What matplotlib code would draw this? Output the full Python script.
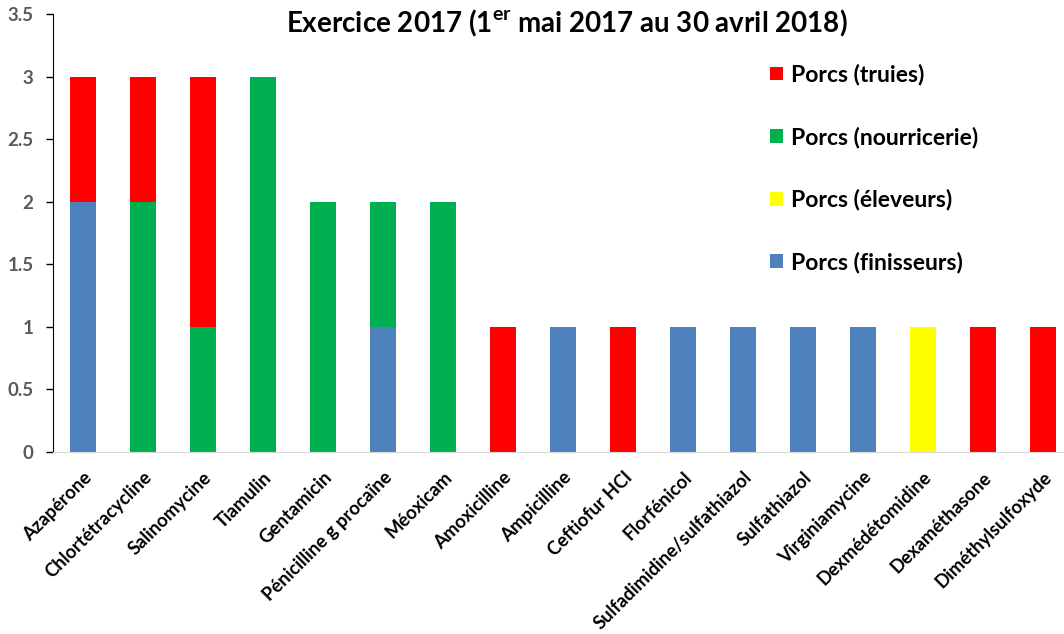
import numpy as np
import matplotlib.pyplot as plt

plt.rcParams['font.family'] = ['Lato', 'DejaVu Sans']
plt.rcParams['mathtext.fontset'] = 'custom'
plt.rcParams['mathtext.bf'] = 'Lato:bold'
plt.rcParams['mathtext.rm'] = 'Lato:bold'

## Data
produits = ['Azapérone', 'Chlortétracycline', 'Salinomycine', 'Tiamulin', 'Gentamicin',
            'Pénicilline g procaïne', 'Méoxicam', 'Amoxicilline', 'Ampicilline', 'Ceftiofur HCl',
            'Florfénicol', 'Sulfadimidine/sulfathiazol', 'Sulfathiazol', 'Virginiamycine',
            'Dexmédétomidine', 'Dexaméthasone', 'Diméthylsulfoxyde']
finisseurs  = [2, 0, 0, 0, 0, 1, 0, 0, 1, 0, 1, 1, 1, 1, 0, 0, 0]
eleveurs    = [0, 0, 0, 0, 0, 0, 0, 0, 0, 0, 0, 0, 0, 0, 1, 0, 0]
nourricerie = [0, 2, 1, 3, 2, 1, 2, 0, 0, 0, 0, 0, 0, 0, 0, 0, 0]
truies      = [1, 1, 2, 0, 0, 0, 0, 1, 0, 1, 0, 0, 0, 0, 0, 1, 1]

series = [('Porcs (finisseurs)', finisseurs, '#4F81BD'),
          ('Porcs (éleveurs)', eleveurs, '#FFFF00'),
          ('Porcs (nourricerie)', nourricerie, '#00B050'),
          ('Porcs (truies)', truies, '#FF0000')]

## Plotting
fig = plt.figure(figsize=(10.64, 6.34), dpi=100)
ax = fig.add_axes([53/1064, 1 - 452/634, 1 - 53/1064, (452 - 14)/634])

x = np.arange(len(produits))
bottom = np.zeros(len(produits))
bars = {}
for label, vals, color in series:
    vals = np.array(vals, dtype=float)
    bars[label] = ax.bar(x, vals, 0.42, bottom=bottom, color=color, label=label)
    bottom += vals

ax.set_xlim(-0.5, 16.35)
ax.set_ylim(0, 3.5)
ax.set_yticks(np.arange(0, 3.51, 0.5))
ax.set_yticklabels(['0', '0.5', '1', '1.5', '2', '2.5', '3', '3.5'],
                   color='#595959', fontsize=13.5, fontweight='bold')
ax.tick_params(axis='y', direction='out', length=5, width=1, color='black', pad=9)
ax.set_xticks(x)
ax.set_xticklabels(produits, rotation=45, ha='right', rotation_mode='anchor',
                   fontsize=13.3, fontweight='bold')
ax.tick_params(axis='x', length=0, pad=12)

for s in ['top', 'right']:
    ax.spines[s].set_visible(False)
ax.spines['left'].set_color('black')
ax.spines['bottom'].set_color('#D9D9D9')

order = ['Porcs (truies)', 'Porcs (nourricerie)', 'Porcs (éleveurs)', 'Porcs (finisseurs)']
ax.legend([bars[k] for k in order], order, loc='upper left',
          bbox_to_anchor=(0.689, 0.933), frameon=False,
          prop={'size': 16.5, 'weight': 'bold'},
          handlelength=0.55, handleheight=0.55, handletextpad=0.35, labelspacing=1.78)

fig.text(567/1064, 1 - 23/634, r'Exercice 2017 (1$^{\mathbf{er}}$ mai 2017 au 30 avril 2018)',
         ha='center', va='center', fontsize=20, fontweight='bold')

plt.savefig('out.png', dpi=100)
